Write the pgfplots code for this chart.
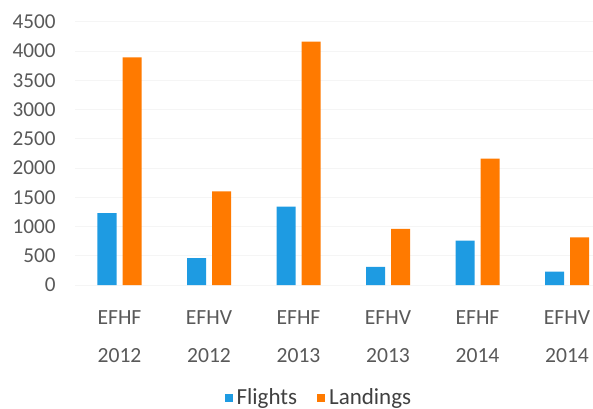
\documentclass[border=0pt]{standalone}
\usepackage{pgfplots}
\pgfplotsset{compat=1.18}
\usepackage{fontspec}
\setmainfont{Carlito}
\definecolor{fblue}{RGB}{30,155,226}
\definecolor{forange}{RGB}{255,122,0}
\definecolor{tickgray}{RGB}{89,89,89}
\definecolor{leggray}{RGB}{64,64,64}
\begin{document}
\begin{tikzpicture}
\begin{axis}[
  scale only axis, width=259.1pt, height=131.65pt,
  xmin=-0.5, xmax=5.29, ymin=0, ymax=4500,
  ybar, bar width=9.5pt,
  axis line style={draw=none}, tick style={draw=none},
  ymajorgrids, grid style={black!4},
  ytick={0,500,...,4500},
  yticklabel style={font=\fontsize{10.6}{12}\selectfont, text=tickgray, xshift=-6pt},
  /pgf/number format/set thousands separator={},
  /pgf/number format/assume math mode=true,
  xtick={0,...,5},
  xticklabels={{EFHF\\2012},{EFHV\\2012},{EFHF\\2013},{EFHV\\2013},{EFHF\\2014},{EFHV\\2014}},
  xticklabel style={align=center, text=tickgray, font=\fontsize{10.8}{19}\selectfont, yshift=-5pt},
  legend style={at={(rel axis cs:0.473,-0.43)}, anchor=center, draw=none, fill=none,
    legend columns=2, font=\fontsize{11.5}{13}\selectfont, text=leggray,
    /tikz/every even column/.append style={column sep=8pt}},
  legend image code/.code={\fill[#1] (0pt,-2pt) rectangle (4pt,2pt);},
]
\addplot[fill=fblue, draw=none, bar shift=-6.25pt] coordinates {(0,1230) (1,460) (2,1340) (3,310) (4,760) (5,230)};
\addplot[fill=forange, draw=none, bar shift=6.25pt] coordinates {(0,3890) (1,1600) (2,4160) (3,960) (4,2160) (5,815)};
\legend{Flights, Landings}
\coordinate (axbl) at (rel axis cs:0,0);
\end{axis}
\pgfresetboundingbox
\path[use as bounding box] ([shift={(-37.375pt,-61.5pt)}]axbl) rectangle ([shift={(259.125pt,142.5pt)}]axbl);
\end{tikzpicture}
\end{document}
